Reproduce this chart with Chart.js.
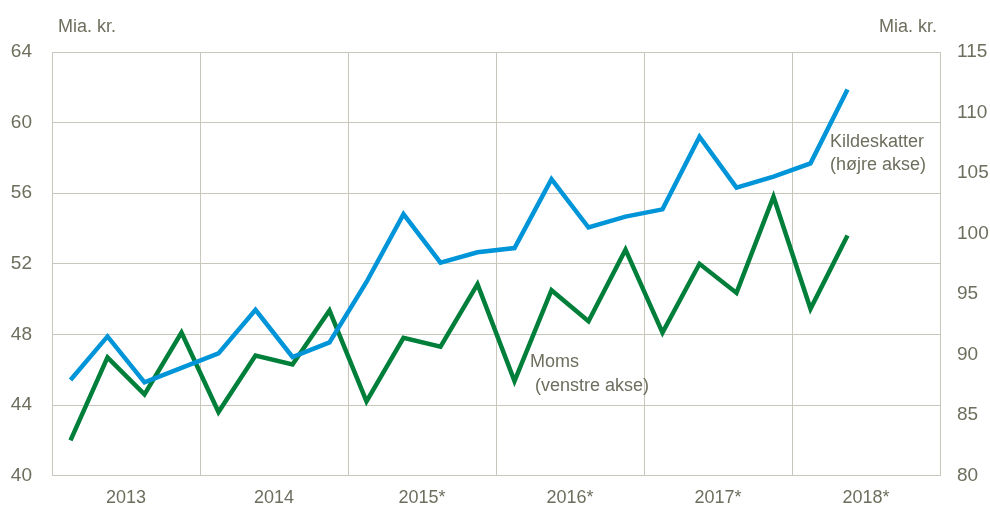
<!DOCTYPE html>
<html>
<head>
<meta charset="utf-8">
<script src="https://cdn.jsdelivr.net/npm/chart.js@4.4.1/dist/chart.umd.min.js"></script>
<style>
  html, body { margin: 0; padding: 0; background: #fff; }
</style>
</head>
<body>
<canvas id="myChart" width="990" height="507"></canvas>
<script>
// kvartaler 2013K1 - 2018K2
const years = ['2013', '2014', '2015*', '2016*', '2017*', '2018*'];
const moms = [42.0, 46.7, 44.6, 48.1, 43.6, 46.8, 46.3, 49.35, 44.2, 47.8, 47.3, 50.85,
              45.35, 50.5, 48.75, 52.8, 48.1, 52.0, 50.35, 55.8, 49.45, 53.6];
const kildeskatter = [87.9, 91.5, 87.7, 88.9, 90.1, 93.7, 89.8, 91.0, 96.0, 101.6, 97.6, 98.45,
                      98.8, 104.5, 100.5, 101.4, 102.0, 108.0, 103.8, 104.7, 105.8, 111.9];
const leftTicks = [40, 44, 48, 52, 56, 60, 64];
const rightTicks = [80, 85, 90, 95, 100, 105, 110, 115];

const FONT = '"Liberation Sans Narrow", "Arial Narrow", "Liberation Sans", Arial, sans-serif';
const TXT = '#6e6e5e';
const GRID = '#c9c7bb';

function toPoints(arr) {
  return arr.map((v, i) => ({ x: i + 0.5, y: v }));
}

const labelsPlugin = {
  id: 'labels',
  afterDraw(chart) {
    const ctx = chart.ctx;
    const yl = chart.scales.y;
    const yr = chart.scales.y2;
    ctx.save();
    ctx.fillStyle = TXT;
    ctx.font = '18px ' + FONT;
    ctx.textBaseline = 'middle';
    ctx.textAlign = 'left';
    ctx.fillText('Mia. kr.', 58, 27);
    ctx.textAlign = 'right';
    ctx.fillText('Mia. kr.', 937, 27);
    ctx.textAlign = 'left';
    ctx.fillText('Kildeskatter', 830, yr.getPixelForValue(107.6));
    ctx.fillText('(højre akse)', 830, yr.getPixelForValue(105.7));
    ctx.fillText('Moms', 530, yl.getPixelForValue(46.45));
    ctx.fillText('(venstre akse)', 535, yl.getPixelForValue(45.1));
    ctx.restore();
  }
};

const ctx = document.getElementById('myChart');

new Chart(ctx, {
  type: 'line',
  data: {
    datasets: [{
      label: 'Kildeskatter (højre akse)',
      data: toPoints(kildeskatter),
      yAxisID: 'y2',
      borderColor: '#0095d8',
      borderWidth: 4.5,
      pointRadius: 0,
      tension: 0
    }, {
      label: 'Moms (venstre akse)',
      data: toPoints(moms),
      yAxisID: 'y',
      borderColor: '#007f3a',
      borderWidth: 4.5,
      pointRadius: 0,
      tension: 0
    }]
  },
  options: {
    responsive: false,
    animation: false,
    layout: { padding: { top: 52, left: 0, right: 0, bottom: 0 } },
    plugins: {
      legend: { display: false },
      tooltip: { enabled: false }
    },
    scales: {
      x: {
        type: 'linear',
        min: 0,
        max: 24,
        afterBuildTicks(scale) {
          // grid ved årsskift, årstal midt i hvert år
          const t = [];
          for (let v = 0; v <= 24; v += 2) t.push({ value: v });
          scale.ticks = t;
        },
        afterFit(scale) { scale.height = 31; },
        grid: {
          color: (c) => (c.tick && c.tick.value % 4 === 0) ? GRID : 'rgba(0,0,0,0)',
          lineWidth: 1,
          drawTicks: false
        },
        border: { color: GRID },
        ticks: {
          padding: 12,
          color: TXT,
          font: { family: FONT, size: 18 },
          maxRotation: 0,
          autoSkip: false,
          callback: (v) => (v % 4 === 2) ? years[(v - 2) / 4] : ''
        }
      },
      y: {
        position: 'left',
        min: leftTicks[0],
        max: leftTicks[leftTicks.length - 1],
        afterBuildTicks(scale) {
          scale.ticks = leftTicks.map(v => ({ value: v }));
        },
        afterFit(scale) { scale.width = 52; },
        grid: { color: GRID, lineWidth: 1, drawTicks: false },
        border: { color: GRID },
        ticks: {
          padding: 20,
          color: TXT,
          font: { family: FONT, size: 19 }
        }
      },
      y2: {
        position: 'right',
        min: rightTicks[0],
        max: rightTicks[rightTicks.length - 1],
        afterBuildTicks(scale) {
          scale.ticks = rightTicks.map(v => ({ value: v }));
        },
        afterFit(scale) { scale.width = 50; },
        grid: { display: false, drawTicks: false },
        border: { color: GRID },
        ticks: {
          padding: 17,
          color: TXT,
          font: { family: FONT, size: 19 }
        }
      }
    }
  },
  plugins: [labelsPlugin]
});
</script>
</body>
</html>
